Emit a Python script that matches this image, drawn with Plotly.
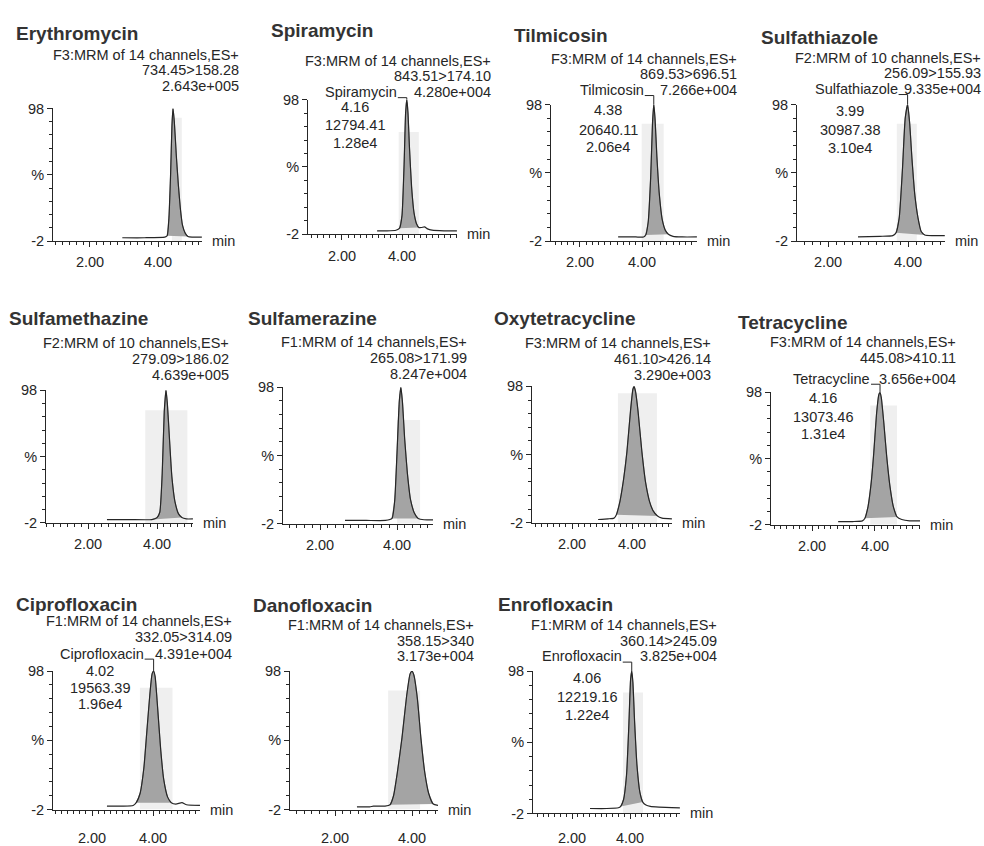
import plotly.graph_objects as go

# ---------------- data ----------------
compounds = ["Erythromycin", "Spiramycin", "Tilmicosin", "Sulfathiazole",
             "Sulfamethazine", "Sulfamerazine", "Oxytetracycline", "Tetracycline",
             "Ciprofloxacin", "Danofloxacin", "Enrofloxacin"]
functions = ["F3:MRM of 14 channels,ES+", "F3:MRM of 14 channels,ES+",
             "F3:MRM of 14 channels,ES+", "F2:MRM of 10 channels,ES+",
             "F2:MRM of 10 channels,ES+", "F1:MRM of 14 channels,ES+",
             "F3:MRM of 14 channels,ES+", "F3:MRM of 14 channels,ES+",
             "F1:MRM of 14 channels,ES+", "F1:MRM of 14 channels,ES+",
             "F1:MRM of 14 channels,ES+"]
transitions = ["734.45>158.28", "843.51>174.10", "869.53>696.51", "256.09>155.93",
               "279.09>186.02", "265.08>171.99", "461.10>426.14", "445.08>410.11",
               "332.05>314.09", "358.15>340", "360.14>245.09"]
max_intensity = ["2.643e+005", "4.280e+004", "7.266e+004", "9.335e+004",
                 "4.639e+005", "8.247e+004", "3.290e+003", "3.656e+004",
                 "4.391e+004", "3.173e+004", "3.825e+004"]

# integrated peak annotations (None = not labelled)
peak_rt = [None, 4.16, 4.38, 3.99, None, None, None, 4.16, 4.02, None, 4.06]
peak_area = [None, "12794.41", "20640.11", "30987.38", None, None, None,
             "13073.46", "19563.39", None, "12219.16"]
peak_height = [None, "1.28e4", "2.06e4", "3.10e4", None, None, None,
               "1.31e4", "1.96e4", None, "1.22e4"]

# chromatogram traces: retention time (min) and relative intensity (%)
ery_t = [2.95, 3.6, 4.2, 4.27, 4.32, 4.37, 4.41, 4.44, 4.48, 4.54, 4.60, 4.66, 4.72, 4.80, 4.88, 5.0, 5.29]
ery_i = [0.5, 0.5, 1, 2, 15, 48, 85, 98, 88, 62, 40, 22, 10, 4, 1.5, 1, 1]
spi_t = [3.17, 3.5, 3.8, 3.92, 4.0, 4.07, 4.12, 4.16, 4.20, 4.25, 4.32, 4.40, 4.48, 4.56, 4.65, 4.75, 4.85, 5.0, 5.4, 5.83]
spi_i = [0.5, 0.5, 1, 2.5, 12, 50, 88, 98, 88, 62, 33, 14, 6, 3, 3, 3.5, 2, 1, 0.5, 0.5]
til_t = [3.23, 3.8, 4.05, 4.12, 4.2, 4.28, 4.34, 4.38, 4.42, 4.48, 4.56, 4.65, 4.75, 4.85, 5.0, 5.3, 5.77]
til_i = [1, 1, 1, 2.5, 12, 45, 85, 98, 88, 60, 32, 14, 6, 3, 1.5, 1, 1]
sft_t = [2.75, 3.3, 3.62, 3.70, 3.78, 3.86, 3.93, 3.99, 4.04, 4.10, 4.17, 4.25, 4.33, 4.42, 4.6, 4.92]
sft_i = [1, 1.5, 2, 4, 15, 50, 88, 98, 85, 58, 32, 15, 5, 2.5, 2, 2]
smz_t = [2.55, 3.2, 3.85, 4.0, 4.08, 4.15, 4.21, 4.26, 4.30, 4.36, 4.43, 4.52, 4.62, 4.72, 4.85, 5.04]
smz_i = [0.5, 0.5, 0.5, 2, 6, 35, 82, 98, 88, 62, 33, 14, 5, 2, 1, 1]
smr_t = [2.65, 3.2, 3.7, 3.87, 3.94, 4.0, 4.06, 4.10, 4.14, 4.20, 4.27, 4.35, 4.45, 4.55, 4.7, 4.94]
smr_i = [0.5, 0.5, 0.5, 2, 15, 50, 88, 98, 88, 60, 35, 16, 6, 2, 1, 1]
otc_t = [2.87, 3.2, 3.4, 3.48, 3.6, 3.72, 3.83, 3.95, 4.03, 4.07, 4.12, 4.2, 4.33, 4.45, 4.58, 4.7, 4.85, 5.0, 5.33]
otc_i = [0.5, 1, 1.5, 4, 14, 30, 50, 80, 96, 98, 94, 80, 50, 28, 14, 7, 3, 1.5, 1]
tc_t = [2.83, 3.3, 3.6, 3.68, 3.78, 3.88, 3.96, 4.05, 4.12, 4.16, 4.20, 4.28, 4.37, 4.47, 4.58, 4.70, 4.85, 5.1, 5.43]
tc_i = [0.5, 0.5, 1, 3, 12, 30, 52, 82, 96, 98, 94, 75, 50, 28, 12, 4, 2, 1, 1]
cip_t = [2.49, 3.0, 3.35, 3.45, 3.58, 3.70, 3.80, 3.90, 3.97, 4.02, 4.07, 4.15, 4.25, 4.35, 4.48, 4.6, 4.75, 4.95, 5.1, 5.54]
cip_i = [0.5, 0.5, 1, 3, 10, 28, 55, 82, 96, 98, 94, 72, 42, 20, 7, 3, 2, 3, 1.5, 1]
dan_t = [2.57, 2.9, 3.0, 3.3, 3.43, 3.52, 3.62, 3.74, 3.86, 3.95, 4.0, 4.05, 4.14, 4.23, 4.33, 4.43, 4.55, 4.675]
dan_i = [0, 0, 0.5, 0.5, 1.5, 8, 25, 50, 80, 96, 98, 95, 78, 50, 25, 10, 2, 1]
enr_t = [2.62, 3.2, 3.6, 3.68, 3.78, 3.88, 3.96, 4.02, 4.06, 4.10, 4.16, 4.24, 4.34, 4.44, 4.55, 4.7, 5.0, 5.72]
enr_i = [1.5, 1.5, 2, 3, 8, 25, 60, 92, 98, 90, 62, 32, 13, 6, 4, 3, 2.5, 2]

times = [ery_t, spi_t, til_t, sft_t, smz_t, smr_t, otc_t, tc_t, cip_t, dan_t, enr_t]
signals = [ery_i, spi_i, til_i, sft_i, smz_i, smr_i, otc_i, tc_i, cip_i, dan_i, enr_i]

# integration window (min) of each peak
integ_from = [4.27, 3.92, 4.12, 3.70, 3.85, 3.87, 3.48, 3.68, 3.45, 3.43, 3.68]
integ_to = [4.88, 4.56, 4.85, 4.42, 4.72, 4.55, 4.85, 4.70, 4.60, 4.55, 4.44]

# faint highlight band behind each peak (min, min, %)
band_from = [4.41, 3.89, 3.99, 3.72, 3.66, 4.00, 3.53, 3.85, 3.57, 3.38, 3.76]
band_to = [4.70, 4.56, 4.70, 4.22, 4.88, 4.60, 4.83, 4.70, 4.64, 4.21, 4.45]
band_top = [91, 74, 84, 84, 83, 74, 93, 88, 86, 84, 83]

# ---------------- page layout (pixels) ----------------
W, H = 984, 846
FONT = "Liberation Sans, Arial, sans-serif"
INK = "#262626"

# plot box: left, right, top, bottom (px), time range (min), label standoff
frames = [
    (53, 202, 103, 239, 0.912, 5.294, 3),
    (308, 457, 94, 232, 0.867, 5.833, 3),
    (551, 697, 99, 239, 1.065, 5.774, 3),
    (797, 945, 99, 239, 1.225, 4.925, 3),
    (46, 193, 392, 528, 0.783, 5.043, 3),
    (283, 433, 389, 529, 1.039, 4.935, 3),
    (532, 672, 388, 528, 0.667, 5.333, 3),
    (771, 920, 394, 530, 0.698, 5.429, 3),
    (53, 200, 680, 822, 0.721, 5.541, 10),
    (290, 438, 680, 822, 0.831, 4.675, 10),
    (533, 680, 680, 826, 0.655, 5.724, 6),
]
# title (left x, centre y)
title_pos = [(15, 26), (270, 23), (513, 28), (760, 30), (8, 318), (247, 318),
             (493, 318), (737, 322), (15, 612), (252, 613), (497, 612)]
# header block: right edge x, three line centres y
header_pos = [(240, 48, 64, 80), (492, 54, 70, 86), (738, 52, 68, 84), (982, 51, 67, 83),
              (230, 344, 360, 376), (468, 343, 359, 375), (712, 344, 360, 376),
              (957, 343, 359, 380), (233, 629, 645, 662), (475, 633, 649, 665),
              (718, 633, 649, 665)]
# peak label block: centre x, name y, rt y, area y, height y
label_pos = [None, (355, 86, 102, 120, 138), (608, 84, 105, 125, 143),
             (850, 83, 106, 125, 144), None, None, None, (823, 380, 400, 419, 437),
             (100, 662, 680, 697, 714), None, (587, 665, 687, 707, 725)]


def px(x):
    return x / W


def py(y):
    return 1 - y / H


fig = go.Figure()
annotations = []
shapes = []
axes = {}

text_font = dict(family=FONT, size=14.5, color=INK)

for k in range(len(compounds)):
    n = k + 1
    xa = "x" if n == 1 else f"x{n}"
    ya = "y" if n == 1 else f"y{n}"
    left, right, top, bottom, t0, t1, standoff = frames[k]
    t, s = times[k], signals[k]

    # faint band behind the peak
    shapes.append(dict(type="rect", xref=xa, yref=ya, x0=band_from[k], x1=band_to[k],
                       y0=-2, y1=band_top[k], fillcolor="#efefef", line_width=0,
                       layer="below"))

    # integrated area (closed along the integration baseline)
    sel = [j for j, v in enumerate(t) if integ_from[k] <= v <= integ_to[k]]
    fig.add_trace(go.Scatter(
        x=[t[j] for j in sel], y=[s[j] for j in sel], xaxis=xa, yaxis=ya,
        mode="lines", fill="toself", fillcolor="#a4a4a4",
        line=dict(width=0.6, color="#555555", shape="spline", smoothing=0.5),
        hoverinfo="skip", showlegend=False))
    # chromatogram
    fig.add_trace(go.Scatter(
        x=t, y=s, xaxis=xa, yaxis=ya, mode="lines",
        line=dict(color=INK, width=1.2, shape="spline", smoothing=0.5),
        showlegend=False))

    axes["xaxis" if n == 1 else f"xaxis{n}"] = dict(
        domain=[px(left), px(right)], range=[t0, t1], anchor=ya,
        showline=True, linecolor=INK, linewidth=1, mirror=False,
        ticks="outside", ticklen=5, tickcolor=INK, tickwidth=1,
        tickmode="array", tickvals=[2, 4], ticktext=["2.00", "4.00"],
        tickfont=text_font, ticklabelstandoff=standoff,
        minor=dict(ticks="outside", ticklen=3, tick0=0, dtick=0.2,
                   tickcolor=INK, tickwidth=1, showgrid=False),
        showgrid=False, zeroline=False, fixedrange=True)
    axes["yaxis" if n == 1 else f"yaxis{n}"] = dict(
        domain=[py(bottom), py(top)], range=[-2, 98], anchor=xa,
        showline=True, linecolor=INK, linewidth=1,
        ticks="outside", ticklen=5, tickcolor=INK, tickwidth=1,
        tickmode="array", tickvals=[-2, 48, 98], ticktext=["-2", "%", "98"],
        tickfont=text_font,
        minor=dict(ticks="outside", ticklen=3, tickmode="array",
                   tickvals=[8, 18, 28, 38, 58, 68, 78, 88],
                   tickcolor=INK, tickwidth=1, showgrid=False),
        showgrid=False, zeroline=False, fixedrange=True)

    # "min" unit at the end of the time axis
    annotations.append(dict(text="min", xref="paper", yref="paper",
                            x=px(right + 8), y=py(bottom), xanchor="left",
                            yanchor="middle", showarrow=False, font=text_font))

    # compound title
    tx, ty = title_pos[k]
    annotations.append(dict(text=f"<b>{compounds[k]}</b>", xref="paper", yref="paper",
                            x=px(tx), y=py(ty), xanchor="left", yanchor="middle",
                            showarrow=False, borderpad=0,
                            font=dict(family=FONT, size=19, color="#333333")))

    # header block
    hx, h1, h2, h3 = header_pos[k]
    for txt, hy in ((functions[k], h1), (transitions[k], h2), (max_intensity[k], h3)):
        annotations.append(dict(text=txt, xref="paper", yref="paper",
                                x=px(hx), y=py(hy), xanchor="right", yanchor="middle",
                                showarrow=False, font=text_font, borderpad=0))

    # peak label with its leader to the apex
    if peak_rt[k] is not None:
        cx, ny, ry, ay, hy = label_pos[k]
        annotations.append(dict(text=compounds[k], xref=xa, yref="paper",
                                x=peak_rt[k], xshift=-9, y=py(ny), xanchor="right",
                                yanchor="middle", showarrow=False, font=text_font,
                                borderpad=0))
        for txt, yy in ((f"{peak_rt[k]:.2f}", ry), (peak_area[k], ay), (peak_height[k], hy)):
            annotations.append(dict(text=txt, xref="paper", yref="paper",
                                    x=px(cx), y=py(yy), xanchor="center",
                                    yanchor="middle", showarrow=False, font=text_font,
                                    borderpad=0))
        rise = max(top - (ny + 6), 2)
        shapes.append(dict(type="path", xref=xa, yref="paper",
                           xsizemode="pixel", xanchor=peak_rt[k],
                           ysizemode="pixel", yanchor=py(top),
                           path=f"M -9,{rise} L 0,{rise} L 0,0",
                           line=dict(color=INK, width=1)))

fig.update_layout(
    width=W, height=H, margin=dict(l=0, r=0, t=0, b=0),
    paper_bgcolor="white", plot_bgcolor="white",
    font=dict(family=FONT, color=INK),
    showlegend=False, annotations=annotations, shapes=shapes, **axes)

fig.write_html("out.html")
